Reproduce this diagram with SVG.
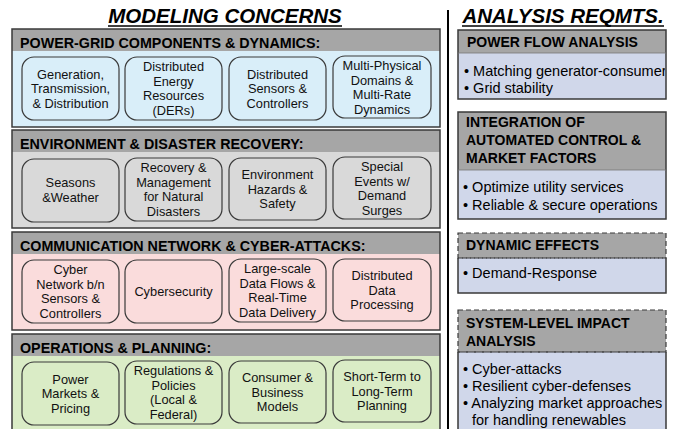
<svg xmlns="http://www.w3.org/2000/svg" width="675" height="429" viewBox="0 0 675 429">
<defs>
<style>
.title{font-family:"Liberation Sans",Arial,sans-serif;font-size:20.5px;font-weight:bold;font-style:italic;fill:#000}
.shdr{font-family:"Liberation Sans",Arial,sans-serif;font-size:14.3px;font-weight:bold;fill:#000}
.rhdr{font-family:"Liberation Sans",Arial,sans-serif;font-size:14px;font-weight:bold;fill:#000}
.ntxt{font-family:"Liberation Sans",Arial,sans-serif;font-size:12.8px;fill:#111;text-anchor:middle}
.btxt{font-family:"Liberation Sans",Arial,sans-serif;font-size:14.5px;fill:#000}
.hdr{fill:#a6a6a6}
.frame{fill:none;stroke:#3a3a3a;stroke-width:1.5}
.node{stroke:#3a3a3a;stroke-width:1.2}
.dash{fill:#a6a6a6;stroke:#3a3a3a;stroke-width:1.2;stroke-dasharray:5 3}
.dline{fill:none;stroke:#3a3a3a;stroke-width:1.2;stroke-dasharray:5 3}
.solid{fill:none;stroke:#3a3a3a;stroke-width:1.5}
.blue{fill:#d9eef9}.gray{fill:#d9d9d9}.pink{fill:#fadcdc}.green{fill:#daecc6}.lav{fill:#d0d7ea}
</style>
<clipPath id="clipR"><rect x="458" y="30" width="207" height="70"/></clipPath>
</defs>

<g id="titles">
<text class="title" x="225" y="23" text-anchor="middle">MODELING CONCERNS</text>
<line x1="108" y1="26" x2="342" y2="26" stroke="#000" stroke-width="1.5"/>
<text class="title" x="563" y="23" text-anchor="middle">ANALYSIS REQMTS.</text>
<line x1="462" y1="26" x2="664" y2="26" stroke="#000" stroke-width="1.5"/>
<line x1="448" y1="10" x2="448" y2="429" stroke="#000" stroke-width="2"/>
</g>

<g id="connectors"></g>

<!-- Section 1 -->
<g id="sec-powergrid">
<rect class="blue" x="12" y="29" width="428" height="98"/>
<rect class="hdr" x="12" y="29" width="428" height="22"/>
<rect class="frame" x="12" y="29" width="428" height="98"/>
<text class="shdr" x="20" y="48">POWER-GRID COMPONENTS &amp; DYNAMICS:</text>
</g>
<g id="n-generation"><rect class="node blue" x="22" y="57" width="97" height="63" rx="12"/>
<text class="ntxt"><tspan x="70.5" y="78.5">Generation,</tspan><tspan x="70.5" y="93">Transmission,</tspan><tspan x="70.5" y="107.5">&amp; Distribution</tspan></text></g>
<g id="n-der"><rect class="node blue" x="125" y="57" width="97" height="63" rx="12"/>
<text class="ntxt"><tspan x="173.5" y="71.3">Distributed</tspan><tspan x="173.5" y="85.8">Energy</tspan><tspan x="173.5" y="100.3">Resources</tspan><tspan x="173.5" y="114.8">(DERs)</tspan></text></g>
<g id="n-sensors"><rect class="node blue" x="229" y="57" width="97" height="63" rx="12"/>
<text class="ntxt"><tspan x="277.5" y="78.5">Distributed</tspan><tspan x="277.5" y="93">Sensors &amp;</tspan><tspan x="277.5" y="107.5">Controllers</tspan></text></g>
<g id="n-multiphys"><rect class="node blue" x="333" y="56" width="98" height="62" rx="12"/>
<text class="ntxt"><tspan x="382" y="70">Multi-Physical</tspan><tspan x="382" y="84.5">Domains &amp;</tspan><tspan x="382" y="99">Multi-Rate</tspan><tspan x="382" y="113.5">Dynamics</tspan></text></g>

<!-- Section 2 -->
<g id="sec-environment">
<rect class="gray" x="12" y="130" width="428" height="98"/>
<rect class="hdr" x="12" y="130" width="428" height="22"/>
<rect class="frame" x="12" y="130" width="428" height="98"/>
<text class="shdr" x="20" y="149">ENVIRONMENT &amp; DISASTER RECOVERY:</text>
</g>
<g id="n-seasons"><rect class="node gray" x="22" y="159" width="97" height="63" rx="12"/>
<text class="ntxt"><tspan x="70.5" y="187">Seasons</tspan><tspan x="70.5" y="201.5">&amp;Weather</tspan></text></g>
<g id="n-recovery"><rect class="node gray" x="125" y="158" width="97" height="63" rx="12"/>
<text class="ntxt"><tspan x="173.5" y="172.3">Recovery &amp;</tspan><tspan x="173.5" y="186.8">Management</tspan><tspan x="173.5" y="201.3">for Natural</tspan><tspan x="173.5" y="215.8">Disasters</tspan></text></g>
<g id="n-hazards"><rect class="node gray" x="229" y="158" width="97" height="62" rx="12"/>
<text class="ntxt"><tspan x="277.5" y="179">Environment</tspan><tspan x="277.5" y="193.5">Hazards &amp;</tspan><tspan x="277.5" y="208">Safety</tspan></text></g>
<g id="n-events"><rect class="node gray" x="333" y="157" width="98" height="62" rx="12"/>
<text class="ntxt"><tspan x="382" y="171">Special</tspan><tspan x="382" y="185.5">Events w/</tspan><tspan x="382" y="200">Demand</tspan><tspan x="382" y="214.5">Surges</tspan></text></g>

<!-- Section 3 -->
<g id="sec-communication">
<rect class="pink" x="12" y="232" width="428" height="98"/>
<rect class="hdr" x="12" y="232" width="428" height="22"/>
<rect class="frame" x="12" y="232" width="428" height="98"/>
<text class="shdr" x="20" y="251">COMMUNICATION NETWORK &amp; CYBER-ATTACKS:</text>
</g>
<g id="n-cybernet"><rect class="node pink" x="22" y="260" width="97" height="63" rx="12"/>
<text class="ntxt"><tspan x="70.5" y="274.3">Cyber</tspan><tspan x="70.5" y="288.8">Network b/n</tspan><tspan x="70.5" y="303.3">Sensors &amp;</tspan><tspan x="70.5" y="317.8">Controllers</tspan></text></g>
<g id="n-cybersec"><rect class="node pink" x="125" y="260" width="97" height="63" rx="12"/>
<text class="ntxt"><tspan x="173.5" y="296">Cybersecurity</tspan></text></g>
<g id="n-dataflows"><rect class="node pink" x="229" y="259" width="97" height="63" rx="12"/>
<text class="ntxt"><tspan x="277.5" y="273.3">Large-scale</tspan><tspan x="277.5" y="287.8">Data Flows &amp;</tspan><tspan x="277.5" y="302.3">Real-Time</tspan><tspan x="277.5" y="316.8">Data Delivery</tspan></text></g>
<g id="n-dataproc"><rect class="node pink" x="333" y="259" width="98" height="62" rx="12"/>
<text class="ntxt"><tspan x="382" y="280">Distributed</tspan><tspan x="382" y="294.5">Data</tspan><tspan x="382" y="309">Processing</tspan></text></g>

<!-- Section 4 -->
<g id="sec-operations">
<rect class="green" x="12" y="334" width="428" height="98"/>
<rect class="hdr" x="12" y="334" width="428" height="22"/>
<rect class="frame" x="12" y="334" width="428" height="98"/>
<text class="shdr" x="20" y="353">OPERATIONS  &amp; PLANNING:</text>
</g>
<g id="n-markets"><rect class="node green" x="22" y="362" width="97" height="63" rx="12"/>
<text class="ntxt"><tspan x="70.5" y="383.5">Power</tspan><tspan x="70.5" y="398">Markets &amp;</tspan><tspan x="70.5" y="412.5">Pricing</tspan></text></g>
<g id="n-regulations"><rect class="node green" x="125" y="361" width="97" height="63" rx="12"/>
<text class="ntxt"><tspan x="173.5" y="375.3">Regulations &amp;</tspan><tspan x="173.5" y="389.8">Policies</tspan><tspan x="173.5" y="404.3">(Local &amp;</tspan><tspan x="173.5" y="418.8">Federal)</tspan></text></g>
<g id="n-consumer"><rect class="node green" x="229" y="361" width="97" height="62" rx="12"/>
<text class="ntxt"><tspan x="277.5" y="382">Consumer &amp;</tspan><tspan x="277.5" y="396.5">Business</tspan><tspan x="277.5" y="411">Models</tspan></text></g>
<g id="n-planning"><rect class="node green" x="333" y="360" width="98" height="62" rx="12"/>
<text class="ntxt"><tspan x="382" y="381">Short-Term to</tspan><tspan x="382" y="395.5">Long-Term</tspan><tspan x="382" y="410">Planning</tspan></text></g>

<!-- Right column -->
<g id="r-powerflow">
<rect class="lav" x="458" y="30" width="208" height="69"/>
<rect class="hdr" x="458" y="30" width="208" height="23"/>
<text class="btxt" clip-path="url(#clipR)"><tspan x="464" y="76">• Matching generator-consumer</tspan><tspan x="464" y="93">• Grid stability</tspan></text>
<rect class="frame" x="458" y="30" width="208" height="69"/>
<line x1="458" y1="53" x2="666" y2="53" stroke="#777" stroke-width="0.8"/>
<text class="rhdr" x="467" y="47">POWER FLOW ANALYSIS</text>
</g>

<g id="r-integration">
<rect class="lav" x="458" y="112" width="208" height="107"/>
<rect class="hdr" x="458" y="112" width="208" height="58"/>
<rect class="frame" x="458" y="112" width="208" height="107"/>
<line x1="458" y1="170" x2="666" y2="170" stroke="#777" stroke-width="0.8"/>
<text class="rhdr"><tspan x="466" y="127">INTEGRATION OF</tspan><tspan x="466" y="145">AUTOMATED CONTROL &amp;</tspan><tspan x="466" y="163">MARKET FACTORS</tspan></text>
<text class="btxt"><tspan x="463" y="192">• Optimize utility services</tspan><tspan x="463" y="210">• Reliable &amp; secure operations</tspan></text>
</g>

<g id="r-dynamic">
<rect class="lav" x="458" y="233" width="208" height="60"/>
<rect class="dash" x="458" y="233" width="208" height="25"/>
<path class="solid" d="M458 258 V293 H666 V258"/>
<line class="dline" x1="458" y1="258" x2="666" y2="258"/>
<text class="rhdr" x="466" y="250">DYNAMIC EFFECTS</text>
<text class="btxt"><tspan x="463" y="278">• Demand-Response</tspan></text>
</g>

<g id="r-system">
<rect class="lav" x="458" y="310" width="208" height="125"/>
<rect class="dash" x="458" y="310" width="208" height="42"/>
<path class="solid" d="M458 352 V435 M666 352 V435"/>
<line class="dline" x1="458" y1="352" x2="666" y2="352"/>
<text class="rhdr"><tspan x="466" y="328">SYSTEM-LEVEL IMPACT</tspan><tspan x="466" y="346">ANALYSIS</tspan></text>
<text class="btxt"><tspan x="463" y="374">• Cyber-attacks</tspan><tspan x="463" y="391">• Resilient cyber-defenses</tspan><tspan x="463" y="408">• Analyzing market approaches</tspan><tspan x="472" y="425">for handling renewables</tspan></text>
</g>
</svg>
